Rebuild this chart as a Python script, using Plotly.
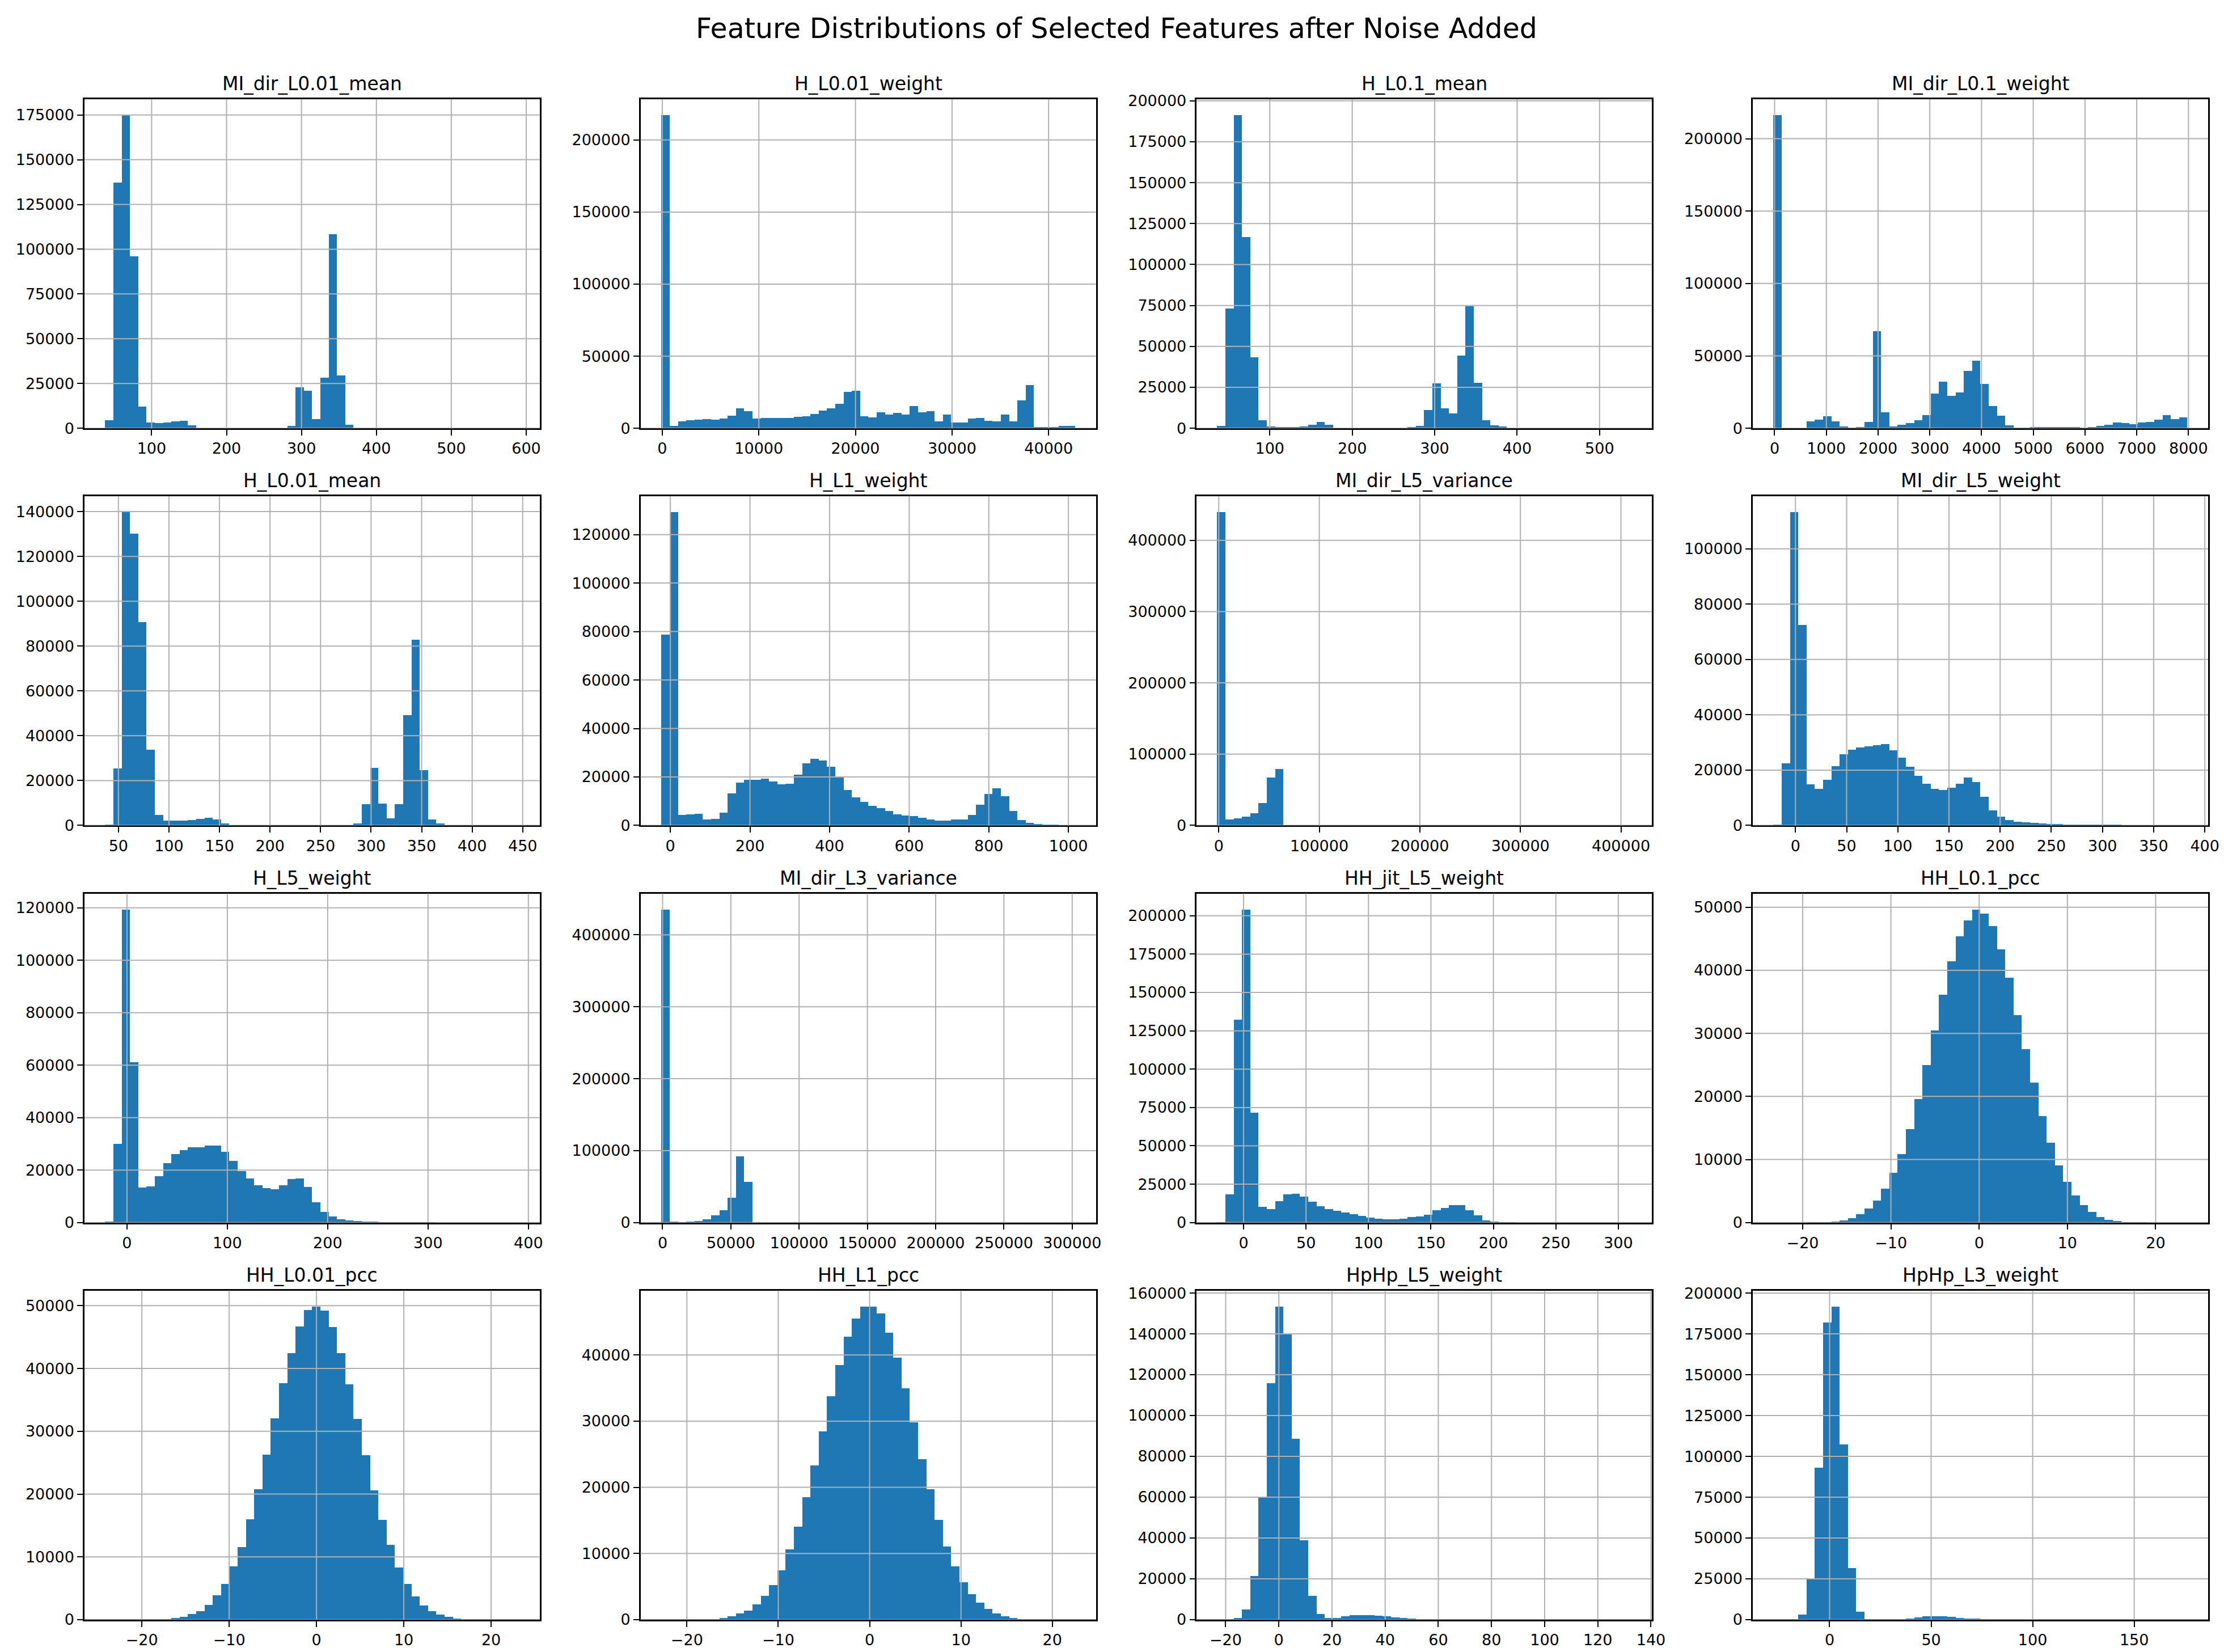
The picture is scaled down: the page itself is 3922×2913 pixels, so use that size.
import numpy as np
import plotly.graph_objects as go
from plotly.subplots import make_subplots

# Data: 16 histograms, 50 equal-width bins each between bin_lo and bin_hi
features = ["MI_dir_L0.01_mean", "H_L0.01_weight", "H_L0.1_mean", "MI_dir_L0.1_weight",
            "H_L0.01_mean", "H_L1_weight", "MI_dir_L5_variance", "MI_dir_L5_weight",
            "H_L5_weight", "MI_dir_L3_variance", "HH_jit_L5_weight", "HH_L0.1_pcc",
            "HH_L0.01_pcc", "HH_L1_pcc", "HpHp_L5_weight", "HpHp_L3_weight"]

bin_lo = [38, -100, 36.5, -20, 36.9, -22.7, -1300, -21.4,
          -21.7, -940, -20.9, -23.3, -24.2, -22.8, -23.1, -27.6]
bin_hi = [590.4, 42750, 538.5, 7980, 446.4, 1017, 410300, 383,
          390.7, 302200, 310.4, 23.6, 23.2, 22.5, 132.6, 176.2]

counts_mi_dir_l001_mean = [4600, 137100, 175000, 95900, 12000, 3100, 2800, 3100, 4000, 4300,
                           1500, 0, 0, 0, 0, 0, 0, 0, 0, 0,
                           0, 0, 1200, 22900, 20900, 5000, 28300, 108300, 29400, 1800,
                           0, 0, 0, 0, 0, 0, 0, 0, 0, 0,
                           0, 0, 0, 0, 0, 0, 0, 0, 0, 0]
counts_h_l001_weight = [217400, 1800, 4800, 5500, 5900, 6200, 5900, 6600, 8600, 13800,
                        11700, 6600, 7000, 7000, 7300, 7300, 8100, 8400, 10100, 12100,
                        13800, 16900, 25300, 26200, 8300, 7700, 11000, 9700, 10800, 9400,
                        15600, 11000, 11700, 4800, 9400, 4000, 4000, 6600, 7000, 5100,
                        4600, 9700, 4600, 19300, 29900, 900, 900, 900, 1500, 1500]
counts_h_l01_mean = [1300, 73200, 191400, 116800, 43300, 4800, 1000, 600, 600, 600,
                     1000, 2300, 3700, 2100, 0, 0, 0, 0, 0, 0,
                     0, 0, 0, 600, 1300, 11100, 27300, 12300, 8900, 44400,
                     74600, 27900, 4800, 1800, 1000, 0, 0, 0, 0, 0,
                     0, 0, 0, 0, 0, 0, 0, 0, 0, 0]
counts_mi_dir_l01_weight = [216400, 0, 0, 0, 4600, 6100, 8100, 4600, 1400, 500,
                            1000, 4200, 67000, 11200, 1400, 2600, 3400, 5700, 8900, 23800,
                            32000, 22200, 24900, 39800, 46500, 30800, 15500, 8500, 2200, 500,
                            500, 900, 900, 900, 900, 900, 900, 500, 1000, 1800,
                            2600, 3800, 3400, 3000, 3800, 4200, 6100, 8900, 6500, 7700]
counts_h_l001_mean = [400, 25300, 139800, 130100, 90500, 33700, 4500, 2100, 2100, 2100,
                      2200, 2800, 3400, 2500, 700, 0, 0, 0, 0, 0,
                      0, 0, 0, 0, 0, 0, 0, 0, 0, 0,
                      700, 9300, 25500, 9600, 3200, 9300, 49200, 82900, 24600, 2700,
                      700, 0, 0, 0, 0, 0, 0, 0, 0, 0]
counts_h_l1_weight = [78700, 129300, 4300, 4500, 4700, 2300, 2700, 5300, 13100, 17500,
                      18800, 18800, 19200, 18100, 16900, 17100, 20800, 25500, 27400, 26800,
                      24100, 20000, 14600, 11500, 9600, 8000, 7100, 5800, 4500, 4000,
                      3700, 3100, 2400, 2000, 2000, 2400, 2400, 4300, 8500, 12900,
                      15200, 11900, 6000, 2100, 1000, 400, 100, 50, 20, 10]
counts_mi_dir_l5_variance = [439700, 7800, 10000, 11900, 16700, 30800, 66800, 78700, 0, 0,
                             0, 0, 0, 0, 0, 0, 0, 0, 0, 0,
                             0, 0, 0, 0, 0, 0, 0, 0, 0, 0,
                             0, 0, 0, 0, 0, 0, 0, 0, 0, 0,
                             0, 0, 0, 0, 0, 0, 0, 0, 0, 0]
counts_mi_dir_l5_weight = [300, 22400, 113300, 72500, 14700, 13100, 16500, 21300, 25600, 27400,
                           28200, 28500, 28900, 29300, 27100, 24400, 21100, 17900, 15000, 13200,
                           12700, 13500, 15100, 17200, 15600, 10200, 5300, 3100, 1800, 1300,
                           1000, 800, 600, 500, 400, 300, 200, 150, 100, 100,
                           50, 40, 30, 20, 10, 10, 5, 5, 2, 1]
counts_h_l5_weight = [400, 30000, 119500, 61200, 13400, 13800, 17700, 22700, 26300, 27800,
                      28900, 28900, 29400, 29400, 27000, 23600, 19700, 17000, 14400, 13200,
                      12900, 14400, 16600, 17000, 13600, 7800, 4100, 2400, 1300, 900,
                      600, 500, 400, 300, 200, 150, 100, 100, 50, 40,
                      30, 20, 10, 10, 5, 5, 2, 2, 1, 1]
counts_mi_dir_l3_variance = [435700, 1500, 700, 1500, 2200, 5100, 10300, 17300, 34600, 92300,
                             56600, 0, 0, 0, 0, 0, 0, 0, 0, 0,
                             0, 0, 0, 0, 0, 0, 0, 0, 0, 0,
                             0, 0, 0, 0, 0, 0, 0, 0, 0, 0,
                             0, 0, 0, 0, 0, 0, 0, 0, 0, 0]
counts_hh_jit_l5_weight = [300, 18400, 132400, 204300, 71700, 10300, 9100, 14000, 18400, 19100,
                           17200, 13600, 10700, 9000, 7800, 6600, 5500, 4500, 3400, 2600,
                           2200, 2200, 2600, 3600, 4300, 5300, 8100, 9700, 11400, 11400,
                           8100, 4700, 1700, 700, 300, 100, 50, 20, 10, 5,
                           0, 0, 0, 0, 0, 0, 0, 0, 0, 0]
counts_hh_l01_pcc = [0, 0, 5, 10, 20, 40, 80, 170, 340, 750,
                     1400, 2300, 3500, 5400, 7900, 10900, 14900, 19600, 25000, 30500,
                     36200, 41500, 45400, 48000, 49700, 49000, 47100, 43400, 38900, 32900,
                     27500, 22200, 16900, 12700, 9100, 6500, 4300, 2800, 1700, 960,
                     500, 250, 120, 60, 30, 15, 7, 3, 1, 1]
counts_hh_l001_pcc = [1, 2, 5, 10, 20, 40, 70, 130, 300, 500,
                      940, 1400, 2400, 3900, 5700, 8500, 11600, 16000, 20800, 26300,
                      32100, 37700, 42500, 46700, 49300, 49900, 49200, 46600, 42500, 37500,
                      32000, 26200, 20600, 15900, 11900, 8300, 5700, 3700, 2300, 1400,
                      850, 500, 220, 130, 60, 30, 15, 7, 3, 1]
counts_hh_l1_pcc = [1, 3, 6, 12, 25, 40, 130, 250, 550, 930,
                    1400, 2300, 3600, 5200, 7500, 10600, 14100, 18500, 23300, 28500,
                    33800, 38500, 42800, 45500, 47300, 47350, 46300, 43400, 39600, 35000,
                    29800, 24300, 19700, 15100, 11100, 8100, 5700, 3900, 2600, 1650,
                    1000, 550, 250, 130, 60, 30, 15, 8, 3, 1]
counts_hphp_l5_weight = [0, 100, 1000, 5100, 21400, 60200, 116000, 153500, 139700, 88600,
                         39000, 11700, 2900, 1000, 1000, 1600, 2200, 2200, 2200, 1900,
                         1600, 1200, 1000, 550, 400, 400, 400, 300, 200, 150,
                         100, 80, 60, 50, 40, 30, 20, 15, 10, 8,
                         5, 4, 3, 2, 1, 1, 1, 1, 0, 1]
counts_hphp_l3_weight = [0, 0, 200, 3300, 24900, 93000, 182200, 191900, 107400, 31700,
                         5000, 500, 200, 200, 300, 500, 900, 1400, 2200, 2200,
                         2000, 1700, 1200, 900, 700, 500, 400, 300, 200, 150,
                         100, 80, 60, 40, 30, 20, 15, 10, 8, 5,
                         4, 3, 2, 1, 1, 1, 0, 0, 0, 1]

# tick spacing per subplot
x_dtick = [100, 10000, 100, 1000, 50, 200, 100000, 50, 100, 50000, 50, 10, 10, 10, 20, 50]
y_dtick = [25000, 50000, 25000, 50000, 20000, 20000, 100000, 20000,
           20000, 100000, 25000, 10000, 10000, 10000, 20000, 25000]

all_counts = [counts_mi_dir_l001_mean, counts_h_l001_weight, counts_h_l01_mean, counts_mi_dir_l01_weight,
              counts_h_l001_mean, counts_h_l1_weight, counts_mi_dir_l5_variance, counts_mi_dir_l5_weight,
              counts_h_l5_weight, counts_mi_dir_l3_variance, counts_hh_jit_l5_weight, counts_hh_l01_pcc,
              counts_hh_l001_pcc, counts_hh_l1_pcc, counts_hphp_l5_weight, counts_hphp_l3_weight]

BLUE = "#1f77b4"
GRID = "#b0b0b0"
FONT = "DejaVu Sans"

fig = make_subplots(rows=4, cols=4, subplot_titles=features,
                    horizontal_spacing=0.0475, vertical_spacing=0.0448)

for i, counts in enumerate(all_counts):
    r, c = i // 4 + 1, i % 4 + 1
    lo, hi = bin_lo[i], bin_hi[i]
    n = len(counts)
    w = (hi - lo) / n
    centers = lo + w * (np.arange(n) + 0.5)
    fig.add_trace(go.Bar(x=centers, y=counts, width=w,
                         marker=dict(color=BLUE, line=dict(width=0)),
                         showlegend=False), row=r, col=c)

    pad = 0.05 * (hi - lo)
    x0, x1 = lo - pad, hi + pad
    ytop = 1.05 * max(counts)
    fig.update_xaxes(range=[x0, x1], tick0=0, dtick=x_dtick[i], row=r, col=c)
    fig.update_yaxes(range=[0, ytop], tick0=0, dtick=y_dtick[i], row=r, col=c)

    # grid drawn above the bars, like matplotlib
    dx = x_dtick[i]
    for k in range(int(np.ceil(x0 / dx)), int(np.floor(x1 / dx)) + 1):
        fig.add_vline(x=k * dx, row=r, col=c, layer="above",
                      line=dict(color=GRID, width=2))
    dy = y_dtick[i]
    for k in range(0, int(np.floor(ytop / dy)) + 1):
        fig.add_hline(y=k * dy, row=r, col=c, layer="above",
                      line=dict(color=GRID, width=2))

fig.update_xaxes(showgrid=False, zeroline=False, showline=True, mirror=True,
                 linecolor="black", linewidth=2.5, ticks="outside", ticklen=10,
                 tickwidth=2.2, tickcolor="black", tickformat="d",
                 tickfont=dict(size=27, color="black", family=FONT), automargin=False)
fig.update_yaxes(showgrid=False, zeroline=False, showline=True, mirror=True,
                 linecolor="black", linewidth=2.5, ticks="outside", ticklen=10,
                 tickwidth=2.2, tickcolor="black", tickformat="d",
                 tickfont=dict(size=27, color="black", family=FONT), automargin=False)

fig.update_annotations(font=dict(size=33, color="black", family=FONT), yshift=6)

fig.update_layout(
    width=3922, height=2913,
    title=dict(text="Feature Distributions of Selected Features after Noise Added",
               x=0.5, xanchor="center", y=1 - 42 / 2913, yanchor="middle",
               font=dict(size=49, color="black", family=FONT)),
    bargap=0,
    plot_bgcolor="white", paper_bgcolor="white",
    margin=dict(l=141, r=36, t=167, b=65),
    font=dict(family=FONT, color="black"),
)

fig.write_html("out.html")
